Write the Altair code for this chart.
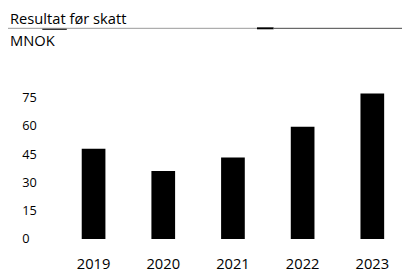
import altair as alt
import pandas as pd

years = ["2019", "2020", "2021", "2022", "2023"]
values = [47.8, 36.1, 43.2, 59.5, 77.2]
y_ticks = [0, 15, 30, 45, 60, 75]
title_text = "Resultat før skatt"
unit_text = "MNOK"

df = pd.DataFrame({"year": years, "value": values})

FONT = "Open Sans"
W, H = 337, 154

bars = alt.Chart(df).mark_bar(color="#000000").encode(
    x=alt.X("year:N", sort=years,
            scale=alt.Scale(paddingInner=0.66, paddingOuter=0.2),
            axis=alt.Axis(title=None, labelAngle=0, ticks=False, tickSize=0, domain=False,
                          labelPadding=18, labelFontSize=15, labelFont=FONT,
                          labelColor="#000000", grid=False)),
    y=alt.Y("value:Q", scale=alt.Scale(domain=[0, 80], nice=False),
            axis=alt.Axis(title=None, values=y_ticks, ticks=False, tickSize=0, domain=False,
                          grid=False, labelAlign="left", labelPadding=47, labelFontSize=13,
                          labelFont=FONT, labelColor="#000000")),
)

title = alt.Chart(pd.DataFrame({"t": [title_text]})).mark_text(
    align="left", baseline="alphabetic", font=FONT, fontSize=15, color="#000000"
).encode(x=alt.value(-59), y=alt.value(-65), text="t:N")

unit = alt.Chart(pd.DataFrame({"t": [unit_text]})).mark_text(
    align="left", baseline="alphabetic", font=FONT, fontSize=15, color="#000000"
).encode(x=alt.value(-59), y=alt.value(-43), text="t:N")

line1 = alt.Chart(pd.DataFrame({"a": [0]})).mark_rule(color="#999999", strokeWidth=1).encode(
    x=alt.value(-61), x2=alt.value(193), y=alt.value(-61))
line2 = alt.Chart(pd.DataFrame({"a": [0]})).mark_rule(color="#000000", strokeWidth=2).encode(
    x=alt.value(193), x2=alt.value(210), y=alt.value(-61))
line3 = alt.Chart(pd.DataFrame({"a": [0]})).mark_rule(color="#444444", strokeWidth=1).encode(
    x=alt.value(210), x2=alt.value(341), y=alt.value(-61))
line4 = alt.Chart(pd.DataFrame({"a": [0]})).mark_rule(color="#000000", strokeWidth=1).encode(
    x=alt.value(-26), x2=alt.value(-1), y=alt.value(-60))

chart = alt.layer(bars, title, unit, line1, line2, line3, line4).properties(
    width=W, height=H,
    autosize=alt.AutoSizeParams(type="none"),
    padding={"left": 61, "top": 79, "right": 5, "bottom": 36},
).configure(background="#ffffff").configure_view(stroke=None)

chart.save("out.html", embed_options={"renderer": "svg", "actions": False})
